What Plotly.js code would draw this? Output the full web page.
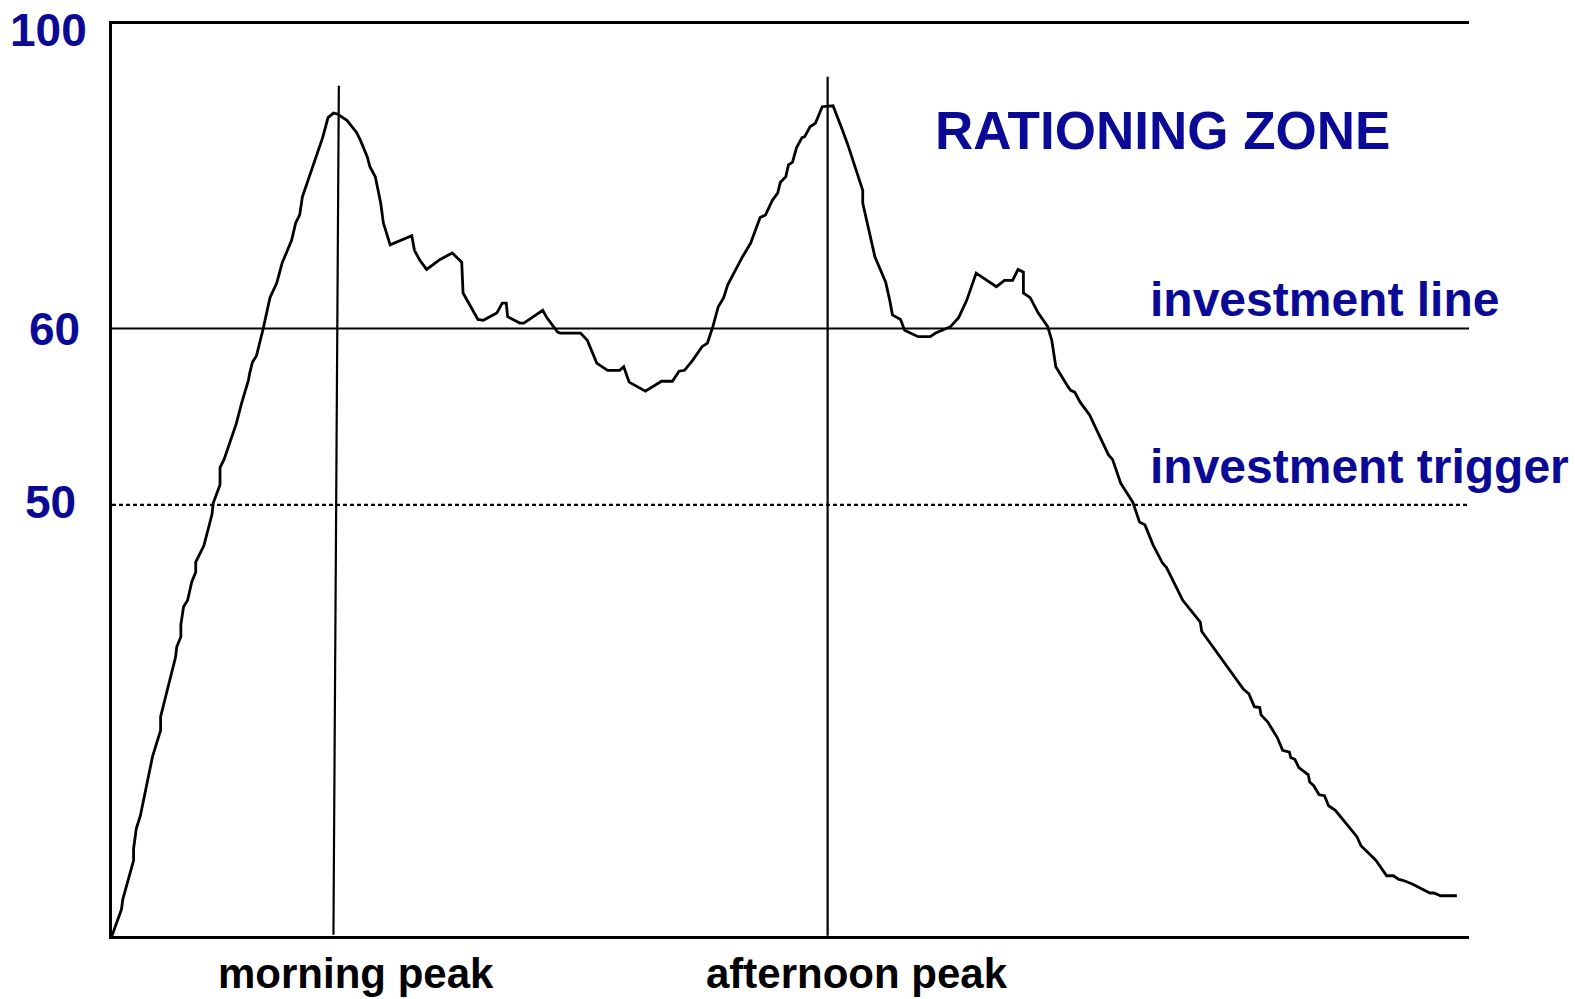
<!DOCTYPE html>
<html>
<head>
<meta charset="utf-8">
<script src="https://cdn.plot.ly/plotly-3.0.1.min.js"></script>
<style>html,body{margin:0;padding:0;background:#fff}#chart{width:1575px;height:999px}</style>
</head>
<body>
<div id="chart"></div>
<script>
// ---- data (time index 0-100 across the day, schematic level) ----
var time = [0,0.7,0.8,1.6,1.6,1.8,2.1,3.0,3.6,3.6,4.7,4.8,5.1,5.1,5.3,5.6,5.9,6.2,6.2,6.8,7.4,7.5,8.0,8.0,8.3,8.6,9.2,9.6,10.1,10.2,10.4,10.7,11.2,11.7,12.2,12.6,13.3,13.6,13.9,14.1,15.4,15.6,16.0,16.4,16.7,17.4,18.1,18.4,18.9,19.1,19.5,19.7,19.9,20.1,20.6,22.2,22.4,22.8,23.3,24.3,25.2,25.9,26.0,27.1,27.5,28.5,28.9,29.2,29.3,30.2,30.5,31.9,32.2,33.0,33.2,34.7,35.2,35.9,36.7,37.6,37.9,38.3,39.5,40.7,41.5,42.0,42.4,43.0,43.7,44.1,44.5,44.9,45.3,45.6,46.1,46.7,47.3,48.0,48.4,48.9,49.3,49.5,49.9,50.1,50.4,50.7,51.1,51.3,51.7,52.1,52.6,53.4,54.1,54.5,55.6,55.6,56.5,57.3,57.6,57.8,58.4,58.7,59.7,60.6,61.0,62.1,62.7,63.3,64.0,65.5,66.1,66.7,67.1,67.5,67.5,68.0,68.6,69.3,69.6,69.7,69.9,70.8,71.0,71.3,71.7,72.4,73.0,73.3,73.8,74.1,74.7,75.0,75.6,76.1,76.5,77.1,77.3,77.8,78.1,79.3,80.6,80.7,83.8,84.2,84.6,85.0,85.1,85.6,86.3,86.7,87.2,87.3,87.6,87.9,88.6,88.7,89.0,89.4,89.8,90.1,90.6,92.2,92.5,93.1,93.6,94.4,94.9,95.3,95.6,96.3,97.6,97.9,98.4,99.6];
var level = [-0.3,2.6,3.7,8.0,9.3,11.5,12.9,19.4,22.3,23.8,30.3,31.5,32.6,33.9,35.9,36.6,38.6,39.7,40.8,42.6,46.0,47.3,49.3,51.2,52.1,53.4,56.0,58.3,60.8,61.6,62.8,63.5,66.5,69.9,71.5,73.7,76.2,78.1,79.0,81.0,86.5,87.5,89.7,90.2,90.1,89.4,88.1,87.2,85.4,84.3,83.2,81.7,80.3,78.1,75.7,76.7,75.1,74.0,73.0,74.1,74.8,73.8,70.4,67.5,67.4,68.2,69.3,69.3,67.8,67.1,67.1,68.5,67.7,66.1,66.0,66.0,65.2,62.7,61.9,61.9,62.3,60.6,59.6,60.7,60.7,61.8,61.9,63.0,64.5,64.9,66.7,68.9,69.9,71.3,72.7,74.4,75.9,78.7,79.0,80.6,81.4,82.6,83.2,84.5,84.8,86.4,87.5,87.6,88.7,89.1,90.9,91.0,88.3,86.7,81.7,80.3,74.4,71.6,69.6,68.0,67.5,66.3,65.6,65.6,66.0,66.7,67.7,69.6,72.6,71.1,71.8,71.8,73.0,72.7,70.4,69.9,68.2,66.7,65.2,64.1,62.3,60.1,59.7,59.5,58.4,57.0,55.1,54.0,52.6,52.1,49.5,48.8,47.4,45.2,44.9,42.7,42.1,40.7,40.2,36.6,34.2,33.2,26.8,26.3,24.9,24.8,24.0,23.2,21.5,20.1,19.9,19.3,19.1,18.2,17.4,16.6,16.2,15.2,15.1,14.0,13.5,10.6,9.6,8.7,8.0,6.3,6.3,5.9,5.8,5.4,4.4,4.4,4.1,4.1];

// reference levels (schematic axis positions) and their labels
var tickLevels = [100, 66.5, 47.1];
var tickText = ['100', '60', '50'];
var lineSpan = [0, 100.5];

// peak markers
var morningPeakTime = [16.8, 16.4];
var morningPeakLevel = [93.2, -0.2];
var afternoonPeakTime = [53.0, 53.0];
var afternoonPeakLevel = [94.2, -0.3];

var peakLabels = ['morning peak', 'afternoon peak'];
var peakLabelTimes = [18.1, 55.2];

var zoneLabels = ['RATIONING ZONE', 'investment line', 'investment trigger'];

var navy = '#0a0a96';
var fam = 'Liberation Sans, Arial, sans-serif';

var traces = [
  {x: lineSpan, y: [tickLevels[1], tickLevels[1]], mode: 'lines', line: {color: '#000', width: 2.2}, hoverinfo: 'skip'},
  {x: lineSpan, y: [tickLevels[2], tickLevels[2]], mode: 'lines', line: {color: '#000', width: 2.2, dash: '4px,3px'}, hoverinfo: 'skip'},
  {x: morningPeakTime, y: morningPeakLevel, mode: 'lines', line: {color: '#000', width: 2.2}, hoverinfo: 'skip'},
  {x: afternoonPeakTime, y: afternoonPeakLevel, mode: 'lines', line: {color: '#000', width: 2.2}, hoverinfo: 'skip'},
  {x: time, y: level, mode: 'lines', line: {color: '#000', width: 2.8}, hoverinfo: 'skip'}
];

var annotations = [
  {xref: 'paper', yref: 'y', x: -0.017, y: tickLevels[0], yshift: -6, xanchor: 'right', yanchor: 'middle', showarrow: false,
   text: '<b>' + tickText[0] + '</b>', font: {family: fam, size: 46, color: navy}},
  {xref: 'paper', yref: 'y', x: -0.022, y: tickLevels[1], xanchor: 'right', yanchor: 'middle', showarrow: false,
   text: '<b>' + tickText[1] + '</b>', font: {family: fam, size: 46, color: navy}},
  {xref: 'paper', yref: 'y', x: -0.025, y: tickLevels[2], yshift: 3, xanchor: 'right', yanchor: 'middle', showarrow: false,
   text: '<b>' + tickText[2] + '</b>', font: {family: fam, size: 46, color: navy}},
  {xref: 'x', yref: 'y', x: 77.8, y: 88.3, xanchor: 'center', yanchor: 'middle', showarrow: false,
   text: '<b>' + zoneLabels[0] + '</b>', font: {family: fam, size: 53, color: navy}},
  {xref: 'x', yref: 'y', x: 76.7, y: 69.7, xanchor: 'left', yanchor: 'middle', showarrow: false,
   text: '<b>' + zoneLabels[1] + '</b>', font: {family: fam, size: 48, color: navy}},
  {xref: 'x', yref: 'y', x: 76.7, y: 51.3, xanchor: 'left', yanchor: 'middle', showarrow: false,
   text: '<b>' + zoneLabels[2] + '</b>', font: {family: fam, size: 48, color: navy}},
  {xref: 'x', yref: 'paper', x: peakLabelTimes[0], y: -0.0415, xanchor: 'center', yanchor: 'middle', showarrow: false,
   text: '<b>' + peakLabels[0] + '</b>', font: {family: fam, size: 42, color: '#000'}},
  {xref: 'x', yref: 'paper', x: peakLabelTimes[1], y: -0.0415, xanchor: 'center', yanchor: 'middle', showarrow: false,
   text: '<b>' + peakLabels[1] + '</b>', font: {family: fam, size: 42, color: '#000'}}
];

var layout = {
  width: 1575, height: 999,
  margin: {l: 112, r: 106, t: 24, b: 63, pad: 0},
  paper_bgcolor: '#fff', plot_bgcolor: '#fff',
  showlegend: false,
  xaxis: {range: [0, 100.5], showline: true, linecolor: '#000', linewidth: 2.7, mirror: true,
          showgrid: false, zeroline: false, showticklabels: false, ticks: '', fixedrange: true},
  yaxis: {range: [-0.33, 100], showline: true, linecolor: '#000', linewidth: 2.7, mirror: false,
          showgrid: false, zeroline: false, showticklabels: false, ticks: '', fixedrange: true},
  annotations: annotations
};

Plotly.newPlot('chart', traces, layout, {displayModeBar: false, staticPlot: true});
</script>
</body>
</html>
